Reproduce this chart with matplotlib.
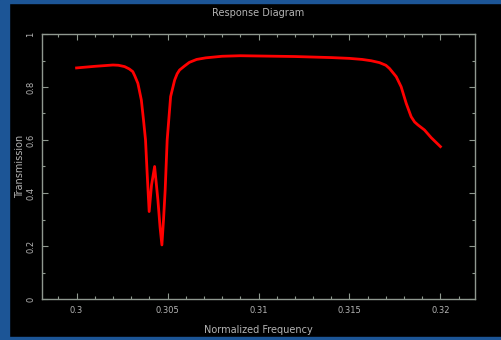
import numpy as np
import matplotlib
matplotlib.use("Agg")
import matplotlib.pyplot as plt
from matplotlib.patches import Rectangle
from matplotlib.ticker import MultipleLocator

# transmission spectrum
freq = [0.3000, 0.3010, 0.3020, 0.3023, 0.30264, 0.3029, 0.30309, 0.3032,
        0.30337, 0.30356, 0.30368, 0.30379, 0.30388, 0.30399, 0.30412,
        0.30429, 0.30447, 0.30459, 0.30469, 0.30478, 0.30487, 0.30498,
        0.30517, 0.30539, 0.30553, 0.30566, 0.30593, 0.3062, 0.3066,
        0.3071, 0.3080, 0.3090, 0.3100, 0.3120, 0.3140, 0.3150, 0.3157,
        0.3162, 0.31665, 0.3170, 0.3172, 0.31757, 0.31784, 0.31812,
        0.31839, 0.31858, 0.31876, 0.31912, 0.31949, 0.3200]
trans = [0.872, 0.878, 0.883, 0.882, 0.877, 0.868, 0.858, 0.842,
         0.814, 0.751, 0.675, 0.600, 0.474, 0.330, 0.430,
         0.500, 0.374, 0.270, 0.204, 0.300, 0.411, 0.600,
         0.764, 0.826, 0.850, 0.864, 0.879, 0.893, 0.904,
         0.910, 0.916, 0.918, 0.917, 0.915, 0.911, 0.908, 0.904,
         0.899, 0.892, 0.882, 0.870, 0.839, 0.801, 0.738,
         0.688, 0.668, 0.657, 0.638, 0.609, 0.575]

xticks = [0.3, 0.305, 0.31, 0.315, 0.32]
xticklabels = ["0.3", "0.305", "0.31", "0.315", "0.32"]
yticks = [0, 0.2, 0.4, 0.6, 0.8, 1]
yticklabels = ["0", "0.2", "0.4", "0.6", "0.8", "1"]

W, H = 502, 340
fig = plt.figure(figsize=(W / 100, H / 100), dpi=100, facecolor="black")

# blue window border
blue = "#1c5596"
fig.patches.append(Rectangle((0, 0), 9 / W, 1, transform=fig.transFigure, color=blue, zorder=0))
fig.patches.append(Rectangle((0, 1 - 3 / H), 1, 3 / H, transform=fig.transFigure, color=blue, zorder=0))
fig.patches.append(Rectangle((0, 0), 1, 3 / H, transform=fig.transFigure, color=blue, zorder=0))

ax = fig.add_axes([42 / W, 41 / H, 433 / W, 265 / H])
ax.set_facecolor("black")

ax.plot(freq, trans, color="red", lw=2.0, solid_joinstyle="round")

ax.set_xlim(0.2981, 0.3219)
ax.set_ylim(0, 1)

txt = "#b4b4b4"
frame = "#8f988f"
for s in ax.spines.values():
    s.set_color(frame)
    s.set_linewidth(1.0)

ax.set_xticks(xticks)
ax.set_xticklabels(xticklabels)
ax.set_yticks(yticks)
ax.set_yticklabels(yticklabels, rotation=90, va="center")
ax.xaxis.set_minor_locator(MultipleLocator(0.001))
ax.yaxis.set_minor_locator(MultipleLocator(0.1))
ax.tick_params(which="both", direction="in", top=True, right=True,
               colors=frame, labelcolor=txt, labelsize=6, width=0.8)
ax.tick_params(which="major", length=4, pad=5)
ax.tick_params(which="minor", length=2)

ax.set_title("Response Diagram", color=txt, fontsize=7, pad=13)
ax.set_xlabel("Normalized Frequency", color=txt, fontsize=7, labelpad=7)
ax.set_ylabel("Transmission", color=txt, fontsize=7, labelpad=1)

fig.savefig("out.png", dpi=100, facecolor="black")
